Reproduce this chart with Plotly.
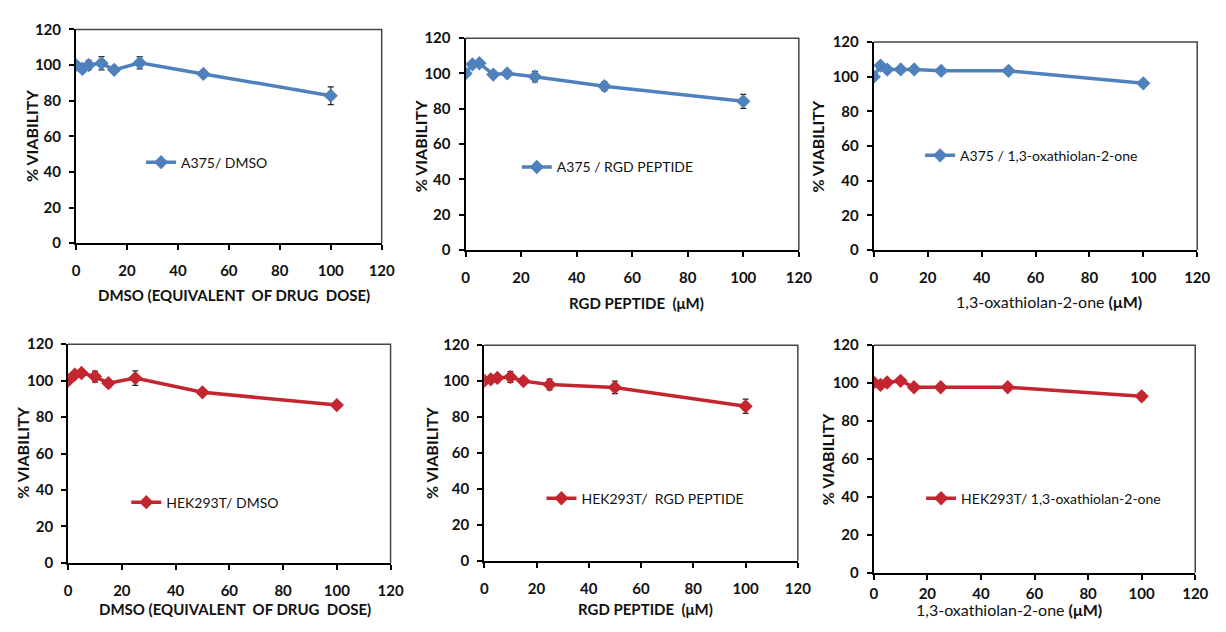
import plotly.graph_objects as go

W, H = 1226, 632

dose = [0, 2.5, 5, 10, 15, 25, 50, 100]

a375_dmso = [100, 97.8, 100, 101, 97.3, 101.3, 95, 82.8]
a375_dmso_err = [0, 1.5, 2.7, 3.7, 1, 3.4, 1, 5]
a375_rgd = [100, 105.2, 105.8, 99.4, 100, 98.2, 92.8, 84.2]
a375_rgd_err = [0, 1, 1, 1, 2, 3, 2.5, 4]
a375_oxa = [100, 106.4, 104.1, 104.2, 104.2, 103.4, 103.4, 96.2]
a375_oxa_err = [0, 0.5, 0.5, 0.5, 0.5, 0.5, 0.5, 0.5]

hek_dmso = [100, 103.3, 104.2, 102.2, 98.6, 101.4, 93.6, 86.6]
hek_dmso_err = [0, 0.5, 1, 3, 2, 4, 1, 1]
hek_rgd = [100.2, 101, 101.8, 102.3, 100, 98.1, 96.5, 86]
hek_rgd_err = [0, 1, 1, 3, 2, 3, 3.5, 4]
hek_oxa = [100.3, 99, 100.3, 101.2, 97.8, 97.8, 97.8, 93]
hek_oxa_err = [0, 0.5, 0.5, 1, 0.5, 0.5, 1.5, 2]

series_names = ["A375/ DMSO", "A375 / RGD PEPTIDE", "A375 / 1,3-oxathiolan-2-one",
                "HEK293T/ DMSO", "HEK293T/\u00a0 RGD PEPTIDE", "HEK293T/ 1,3-oxathiolan-2-one"]
x_titles = ["<b>DMSO (EQUIVALENT\u00a0 OF DRUG\u00a0 DOSE)</b>",
            "<b>RGD PEPTIDE\u00a0 (μM)</b>",
            "1,3-oxathiolan-2-one <b>(μM)</b>",
            "<b>DMSO (EQUIVALENT\u00a0 OF DRUG\u00a0 DOSE)</b>",
            "<b>RGD PEPTIDE\u00a0 (μM)</b>",
            "1,3-oxathiolan-2-one <b>(μM)</b>"]
y_title = "<b>% VIABILITY</b>"
x_ticks = [0, 20, 40, 60, 80, 100, 120]
y_ticks = [0, 20, 40, 60, 80, 100, 120]

values = [a375_dmso, a375_rgd, a375_oxa, hek_dmso, hek_rgd, hek_oxa]
errors = [a375_dmso_err, a375_rgd_err, a375_oxa_err, hek_dmso_err, hek_rgd_err, hek_oxa_err]
BLUE = "#4F81BD"
RED = "#C3262E"
colors = [BLUE, BLUE, BLUE, RED, RED, RED]

# plot areas in pixels: (left, top, right, bottom)
boxes = [(73, 20, 383, 240), (468, 29, 806, 247), (882, 33, 1210, 247),
         (65, 344, 392, 569), (487, 345, 805, 567), (882, 345, 1208, 579)]
# legend (line start x, y)
leg_pos = [(147, 157), (528, 162), (937, 150), (132, 507), (553, 503), (938, 503)]
# x-title centers, y-title centers
xt_pos = [(233, 293), (641, 302), (1060, 300), (234, 617), (651, 617), (1019, 617)]
xt_size = [15, 15, 16, 15, 15, 16]
x_standoff = [8, 8, 8, 8, 8, 1]
yt_pos = [(28, 130), (422, 140), (825, 141), (18, 456), (433, 456), (835, 462)]

FONT = "Lato"
fig = go.Figure()
layout = dict(width=W, height=H, margin=dict(l=0, r=0, t=0, b=0),
              paper_bgcolor="white", plot_bgcolor="white",
              font=dict(family=FONT, color="#111111"), showlegend=True)
annotations = []
shapes = []
for i in range(6):
    n = "" if i == 0 else str(i + 1)
    xa, ya = "x" + n, "y" + n
    lg = "legend" + n
    fig.add_trace(go.Scatter(
        x=dose, y=values[i], mode="lines+markers", name=series_names[i],
        line=dict(color=colors[i], width=3.5),
        marker=dict(symbol="diamond", size=11, color=colors[i]),
        error_y=dict(type="data", array=errors[i], visible=True,
                     color="#222222", thickness=1.2, width=3),
        xaxis=xa, yaxis=ya, legend=lg))
    l, t, r, b = boxes[i]
    layout["xaxis" + n] = dict(
        domain=[l / W, r / W], range=[0, 120], anchor=ya,
        tickvals=x_ticks, ticks="outside", ticklen=5, tickwidth=1.5, tickcolor="black",
        showline=True, linecolor="black", linewidth=2, showgrid=False, zeroline=False,
        tickfont=dict(family=FONT, size=15, color="#111111", weight="bold"),
        ticklabelstandoff=x_standoff[i])
    layout["yaxis" + n] = dict(
        domain=[1 - b / H, 1 - t / H], range=[0, 120], anchor=xa,
        tickvals=y_ticks, ticks="outside", ticklen=5, tickwidth=1.5, tickcolor="black",
        showline=True, linecolor="black", linewidth=2, showgrid=False, zeroline=False,
        tickfont=dict(family=FONT, size=15, color="#111111", weight="bold"),
        ticklabelstandoff=5)
    shapes.append(dict(type="path", xref=xa + " domain", yref=ya + " domain",
                       path="M 0 1 L 1 1 L 1 0", line=dict(color="#444444", width=1.5)))
    lx, ly = leg_pos[i]
    layout[lg] = dict(x=(lx - 8) / W, y=1 - ly / H, xanchor="left", yanchor="middle",
                      bgcolor="rgba(0,0,0,0)", borderwidth=0,
                      font=dict(family=FONT, size=14, color="#111111"),
                      itemwidth=30)
    cx, cy = xt_pos[i]
    annotations.append(dict(text=x_titles[i], xref="paper", yref="paper",
                            x=cx / W, y=1 - cy / H, showarrow=False,
                            xanchor="center", yanchor="middle",
                            font=dict(family=FONT, size=xt_size[i], color="#111111")))
    yx, yy = yt_pos[i]
    annotations.append(dict(text=y_title, xref="paper", yref="paper",
                            x=yx / W, y=1 - yy / H, showarrow=False, textangle=-90,
                            xanchor="center", yanchor="middle",
                            font=dict(family=FONT, size=16, color="#111111")))

layout["annotations"] = annotations
layout["shapes"] = shapes
fig.update_layout(**layout)
fig.write_html("out.html")
